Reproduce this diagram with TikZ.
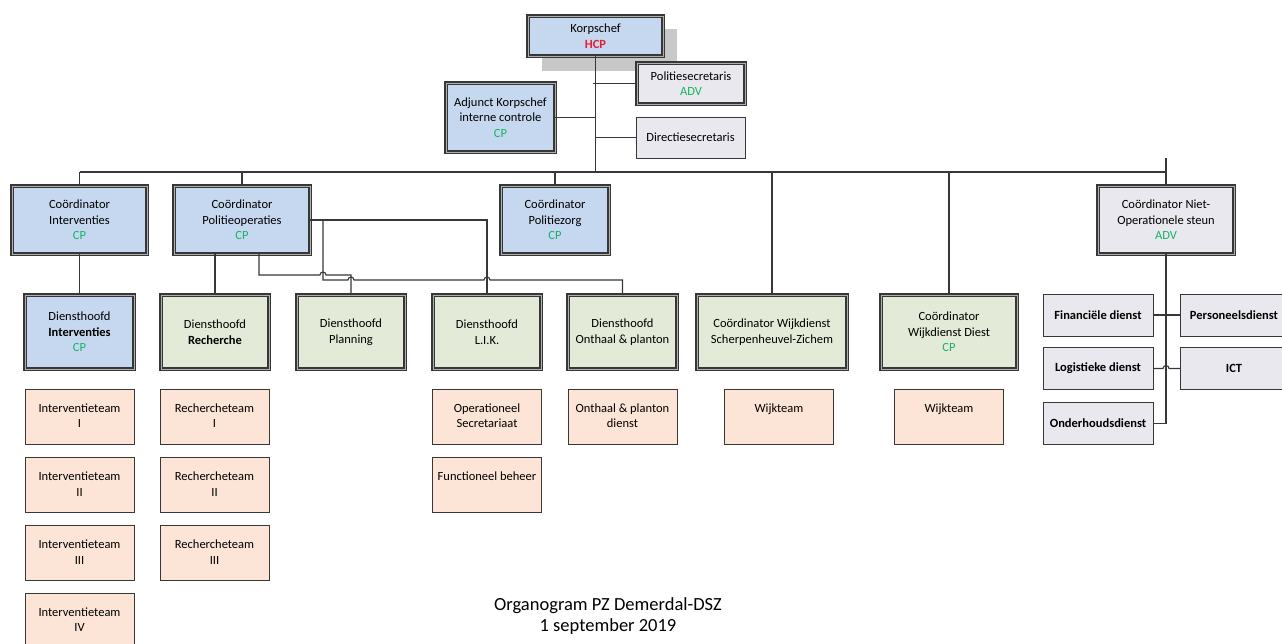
\documentclass[tikz,border=0pt]{standalone}
\usepackage{fontspec}
\setmainfont{Carlito}
\usetikzlibrary{calc}
\definecolor{myBlue}{RGB}{198, 216, 239}
\definecolor{myGreen}{RGB}{227, 235, 216}
\definecolor{myPeach}{RGB}{252, 229, 214}
\definecolor{myGrey}{RGB}{232, 232, 238}
\definecolor{myShadow}{RGB}{200, 200, 200}
\definecolor{myLine}{RGB}{55, 55, 55}
\definecolor{myGap}{RGB}{175, 175, 175}
\definecolor{myRed}{RGB}{230, 30, 50}
\definecolor{myGreenTxt}{RGB}{20, 180, 100}
\newcommand{\rankCP}{\textcolor{myGreenTxt}{CP}}
\newcommand{\rankADV}{\textcolor{myGreenTxt}{ADV}}
\newcommand{\teamtext}[1]{\parbox[c][55pt][t]{109pt}{\centering\rule{0pt}{23pt}#1}}
\tikzset{%%
  box/.style={rectangle, align=center, inner sep=2pt, outer sep=0pt,
    font=\fontsize{12.5}{15.5}\selectfont},
  dblbox/.style={box, draw=myLine, double=myGap, double distance=0.9pt, line width=1.1pt},
  sglbox/.style={box, draw=myLine, line width=1pt},
  coordbox/.style={dblbox, fill=myBlue, minimum width=136, minimum height=68},
  headbox/.style={dblbox, fill=myGreen, minimum width=108, minimum height=74},
  teambox/.style={sglbox, fill=myPeach, inner sep=0pt},
  deptbox/.style={sglbox, fill=myGrey, minimum width=110, minimum height=42,
    font=\fontsize{12.5}{15.5}\selectfont\bfseries},
  link/.style={draw=myLine, line width=1.1pt}
  }

\begin{document}
\begin{tikzpicture}[x=1pt, y=-1pt]
  \useasboundingbox (0,0) rectangle (1282,643);
  % top
  \fill[myShadow] (542,29) rectangle (677,71);
  \node[dblbox, fill=myBlue, minimum width=135, minimum height=40] (korps) at (595.5,36)
    {Korpschef\\\textcolor{myRed}{\bfseries HCP}};
  \node[dblbox, fill=myGrey, minimum width=108, minimum height=41] (polsec) at (691,83.5)
    {Politiesecretaris\\\rankADV};
  \node[dblbox, fill=myBlue, minimum width=109, minimum height=69] (adj) at (500.5,117.5)
    {Adjunct Korpschef\\interne controle\\\rankCP};
  \node[sglbox, fill=myGrey, minimum width=109, minimum height=41] (dirsec) at (690.5,137.5)
    {Directiesecretaris};
  % coordinators
  \node[coordbox, minimum width=135] (cInt) at (79.5,220) {Coördinator\\Interventies\\\rankCP};
  \node[coordbox] (cOps) at (242,220) {Coördinator\\Politieoperaties\\\rankCP};
  \node[coordbox, minimum width=108] (cZorg) at (555,220) {Coördinator\\Politiezorg\\\rankCP};
  \node[coordbox, fill=myGrey] (cNiet) at (1166,220) {Coördinator Niet-\\Operationele steun\\\rankADV};
  % diensthoofden
  \node[headbox, fill=myBlue, minimum width=109] (dInt) at (79.5,332)
    {Diensthoofd\\\textbf{Interventies}\\\rankCP};
  \node[headbox] (dRech) at (215,332) {Diensthoofd\\\textbf{Recherche}};
  \node[headbox] (dPlan) at (351,332) {Diensthoofd\\Planning};
  \node[headbox] (dLik) at (487,332) {Diensthoofd\\L.I.K.};
  \node[headbox, minimum width=109] (dOnt) at (622.5,332) {Diensthoofd\\Onthaal \& planton};
  \node[headbox, minimum width=150] (cWijkSZ) at (772,332) {Coördinator Wijkdienst\\Scherpenheuvel-Zichem};
  \node[headbox, minimum width=136] (cWijkD) at (949,332) {Coördinator\\Wijkdienst Diest\\\rankCP};
  % teams
  \foreach \n/\y in {I/416.5, II/485, III/553, IV/620.5}
    \node[teambox] (int\n) at (79.5,\y) {\teamtext{Interventieteam\\\n}};
  \foreach \n/\y in {I/416.5, II/485, III/553}
    \node[teambox] (rech\n) at (214.5,\y) {\teamtext{Rechercheteam\\\n}};
  \node[teambox] (opsec) at (487,416.5) {\teamtext{Operationeel\\Secretariaat}};
  \node[teambox] (funcb) at (487,485) {\teamtext{Functioneel beheer}};
  \node[teambox] (ontd) at (622.5,416.5) {\teamtext{Onthaal \& planton\\dienst}};
  \node[teambox] (wijkSZ) at (779,416.5) {\teamtext{Wijkteam}};
  \node[teambox] (wijkD) at (949,416.5) {\teamtext{Wijkteam}};
  % niet-operationele steun
  \node[deptbox] (fin) at (1098,315) {Financiële dienst};
  \node[deptbox, minimum width=108] (pers) at (1234,315) {Personeelsdienst};
  \node[deptbox] (logi) at (1098,368.5) {Logistieke dienst};
  \node[deptbox, minimum width=108] (ict) at (1234,368.5) {ICT};
  \node[deptbox] (ond) at (1098,423.5) {Onderhoudsdienst};
  \node[font=\fontsize{18.5}{20.5}\selectfont, align=center] (title) at (608,616)
    {Organogram PZ Demerdal-DSZ\\1 september 2019};
  % connectors
  \coordinate (bus) at (0,172);
  \coordinate (rowA) at (0,280);
  \coordinate (rowB) at (0,275);
  \draw[link] (korps.south) -- (korps.south |- bus);
  \draw[link] (polsec.west) -- ++(-44,0);
  \draw[link] (adj.east) -- (adj.east -| korps.south);
  \draw[link] (dirsec.west) -- (dirsec.west -| korps.south);
  \draw[link] (cInt.north |- bus) -- (cNiet.north |- bus);
  \foreach \c in {cInt, cOps, cZorg, cWijkSZ, cWijkD}
    \draw[link] (\c.north) -- (\c.north |- bus);
  \draw[link] (cNiet.north) -- ++(0,-28);
  \draw[link] (cInt.south) -- (dInt.north);
  \draw[link] (dRech.north) -- (dRech.north |- cOps.south);
  \draw[link] (cOps.east) -- (dLik.north |- cOps.east) -- (dLik.north);
  \draw[link] ([xshift=13pt]cOps.east) |- ($(dPlan.north |- rowA)+(-3,0)$)
    arc[start angle=180, end angle=360, radius=3]
    -- ($(dLik.north |- rowA)+(-3,0)$) arc[start angle=180, end angle=360, radius=3]
    -- (dOnt.north |- rowA) -- (dOnt.north);
  \draw[link] ([xshift=17pt]cOps.south) |- ($(cOps.east |- rowB)+(10,0)$)
    arc[start angle=180, end angle=360, radius=3]
    -- (dPlan.north |- rowB) -- (dPlan.north);
  \draw[link] (cNiet.south) |- (ond.east);
  \draw[link] (fin.east) -- (pers.west);
  \draw[link] (logi.east) -- ($(cNiet.south |- logi.east)+(-3,0)$)
    arc[start angle=180, end angle=360, radius=3] -- (ict.west);
\end{tikzpicture}
\end{document}
